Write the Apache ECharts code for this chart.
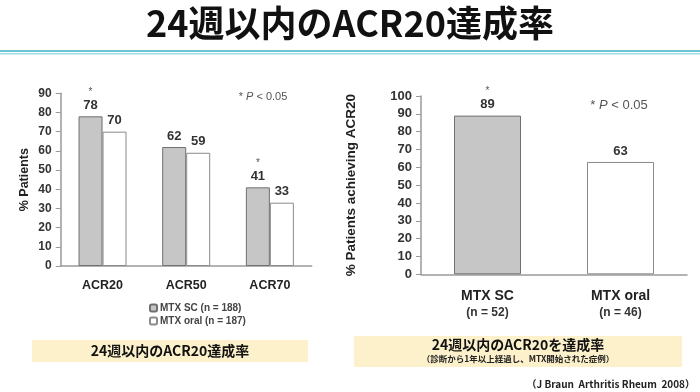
<!DOCTYPE html>
<html><head><meta charset="utf-8">
<script src="https://cdn.jsdelivr.net/npm/echarts@6/dist/echarts.min.js"></script>
<style>html,body{margin:0;padding:0;background:#fff}#c{width:700px;height:392px}</style>
</head><body><div id="c"></div>
<script>
// Left chart data
var leftCategories = ['ACR20', 'ACR50', 'ACR70'];
var leftSC = [78, 62, 41];
var leftOral = [70, 59, 33];
var leftSCSig = [true, false, true];
var leftOralSig = [false, false, false];
var leftSeriesNames = ['MTX SC (n = 188)', 'MTX oral (n = 187)'];
var leftTicks = [0, 10, 20, 30, 40, 50, 60, 70, 80, 90];
// Right chart data
var rightCategories = ['MTX SC', 'MTX oral'];
var rightN = ['(n = 52)', '(n = 46)'];
var rightValues = [89, 63];
var rightSig = [true, false];
var rightTicks = [0, 10, 20, 30, 40, 50, 60, 70, 80, 90, 100];

var JP = '"Noto Sans CJK JP", sans-serif';
var AR = '"Liberation Sans", Arial, sans-serif';
var greyFill = '#c6c6c6', greyBorder = '#707070', whiteBorder = '#8a8a8a';
var axisColor = '#9a9a9a';

function sigLabel(sigArr, fs) {
  return {
    show: true, position: 'top', distance: 4,
    formatter: function (p) { return (sigArr[p.dataIndex] ? '{s|*}\n' : '') + '{v|' + p.value + '}'; },
    rich: {
      s: { fontSize: 10, color: '#555', fontFamily: AR, lineHeight: 13, align: 'center' },
      v: { fontSize: fs, fontWeight: 'bold', color: '#333', fontFamily: AR, lineHeight: 14, align: 'center' }
    }
  };
}
var rightStyles = [
  { color: greyFill, borderColor: greyBorder, borderWidth: 1 },
  { color: '#ffffff', borderColor: whiteBorder, borderWidth: 1 }
];

var chart = echarts.init(document.getElementById('c'));
chart.setOption({
  animation: false,
  grid: [
    { left: 60.7, top: 93.3, width: 251, height: 172.7 },
    { left: 421, top: 96, width: 266, height: 178.3 }
  ],
  legend: {
    orient: 'vertical', left: 144, top: 298, itemWidth: 7, itemHeight: 7, itemGap: 3,
    data: leftSeriesNames,
    textStyle: { fontSize: 10, fontWeight: 'bold', color: '#444', fontFamily: AR, padding: [0, 0, 0, -2] }
  },
  xAxis: [
    { type: 'category', gridIndex: 0, data: leftCategories,
      axisLine: { lineStyle: { color: axisColor, width: 1.5 } }, axisTick: { show: false },
      axisLabel: { margin: 13, fontSize: 12.5, fontWeight: 'bold', color: '#222', fontFamily: AR } },
    { type: 'category', gridIndex: 1,
      data: rightCategories.map(function (c, i) { return c + '\n' + rightN[i]; }),
      axisLine: { lineStyle: { color: axisColor, width: 1.5 } }, axisTick: { show: false },
      axisLabel: { margin: 14, fontFamily: AR,
        formatter: function (v) { var p = v.split('\n'); return '{a|' + p[0] + '}\n{b|' + p[1] + '}'; },
        rich: { a: { fontSize: 14, fontWeight: 'bold', color: '#222', lineHeight: 16, fontFamily: AR },
                b: { fontSize: 12, fontWeight: 'bold', color: '#333', lineHeight: 16, fontFamily: AR } } } }
  ],
  yAxis: [
    { type: 'value', gridIndex: 0, min: leftTicks[0], max: leftTicks[leftTicks.length - 1], interval: 10,
      name: '% Patients', nameLocation: 'middle', nameGap: 30,
      nameTextStyle: { fontSize: 12.5, fontWeight: 'bold', color: '#222', fontFamily: AR },
      splitLine: { show: false },
      axisLine: { show: true, lineStyle: { color: axisColor, width: 1.5 } },
      axisTick: { show: true, length: 5, lineStyle: { color: axisColor } },
      axisLabel: { margin: 9, fontSize: 12, fontWeight: 'bold', color: '#333', fontFamily: AR } },
    { type: 'value', gridIndex: 1, min: rightTicks[0], max: rightTicks[rightTicks.length - 1], interval: 10,
      name: '% Patients achieving ACR20', nameLocation: 'middle', nameGap: 63,
      nameTextStyle: { fontSize: 13.5, fontWeight: 'bold', color: '#222', fontFamily: AR },
      splitLine: { show: false },
      axisLine: { show: true, lineStyle: { color: axisColor, width: 1.5 } },
      axisTick: { show: true, length: 5, lineStyle: { color: axisColor } },
      axisLabel: { margin: 9, fontSize: 13, fontWeight: 'bold', color: '#333', fontFamily: AR } }
  ],
  series: [
    { name: leftSeriesNames[0], type: 'bar', xAxisIndex: 0, yAxisIndex: 0, data: leftSC,
      barWidth: 24, barGap: '0%',
      itemStyle: { color: greyFill, borderColor: greyBorder, borderWidth: 1 },
      label: sigLabel(leftSCSig, 13) },
    { name: leftSeriesNames[1], type: 'bar', xAxisIndex: 0, yAxisIndex: 0, data: leftOral,
      barWidth: 24, barGap: '0%',
      itemStyle: { color: '#ffffff', borderColor: whiteBorder, borderWidth: 1 },
      label: sigLabel(leftOralSig, 13) },
    { name: 'right', type: 'bar', xAxisIndex: 1, yAxisIndex: 1, barWidth: 67,
      data: rightValues.map(function (v, i) { return { value: v, itemStyle: rightStyles[i] }; }),
      label: sigLabel(rightSig, 13) }
  ],
  graphic: [
    { type: 'text', left: 'center', top: 5,
      style: { text: '24週以内のACR20達成率', fontSize: 36, fontWeight: 'bold', fill: '#111', fontFamily: JP } },
    { type: 'rect', shape: { x: 0, y: 50, width: 700, height: 2 }, style: { fill: '#6cc5d5' } },
    { type: 'rect', shape: { x: 0, y: 53, width: 700, height: 1.5 }, style: { fill: '#a3dce7' } },
    { type: 'text', x: 263, y: 97,
      style: { text: '* {i|P} < 0.05', fontSize: 11, fill: '#555', fontFamily: AR, align: 'center', verticalAlign: 'middle',
        rich: { i: { fontStyle: 'italic', fontSize: 11, fill: '#555', fontFamily: AR } } } },
    { type: 'text', x: 619, y: 105,
      style: { text: '* {i|P} < 0.05', fontSize: 13, fill: '#555', fontFamily: AR, align: 'center', verticalAlign: 'middle',
        rich: { i: { fontStyle: 'italic', fontSize: 13, fill: '#555', fontFamily: AR } } } },
    { type: 'rect', shape: { x: 32, y: 340, width: 276, height: 22 }, style: { fill: '#fdf1cc' } },
    { type: 'text', x: 170, y: 351,
      style: { text: '24週以内のACR20達成率', fontSize: 14, fontWeight: 'bold', fill: '#111', fontFamily: JP, align: 'center', verticalAlign: 'middle' } },
    { type: 'rect', shape: { x: 354, y: 336, width: 328, height: 31 }, style: { fill: '#fdf1cc' } },
    { type: 'text', x: 518, y: 345,
      style: { text: '24週以内のACR20を達成率', fontSize: 14, fontWeight: 'bold', fill: '#111', fontFamily: JP, align: 'center', verticalAlign: 'middle' } },
    { type: 'text', x: 518, y: 358.5,
      style: { text: '（診断から1年以上経過し、MTX開始された症例）', fontSize: 8.5, fontWeight: 'bold', fill: '#222', fontFamily: JP, align: 'center', verticalAlign: 'middle' } },
    { type: 'text', x: 695, y: 384,
      style: { text: '（J Braun  Arthritis Rheum  2008）', fontSize: 10, fontWeight: 'bold', fill: '#222', fontFamily: JP, align: 'right', verticalAlign: 'middle' } }
  ]
});
</script></body></html>
